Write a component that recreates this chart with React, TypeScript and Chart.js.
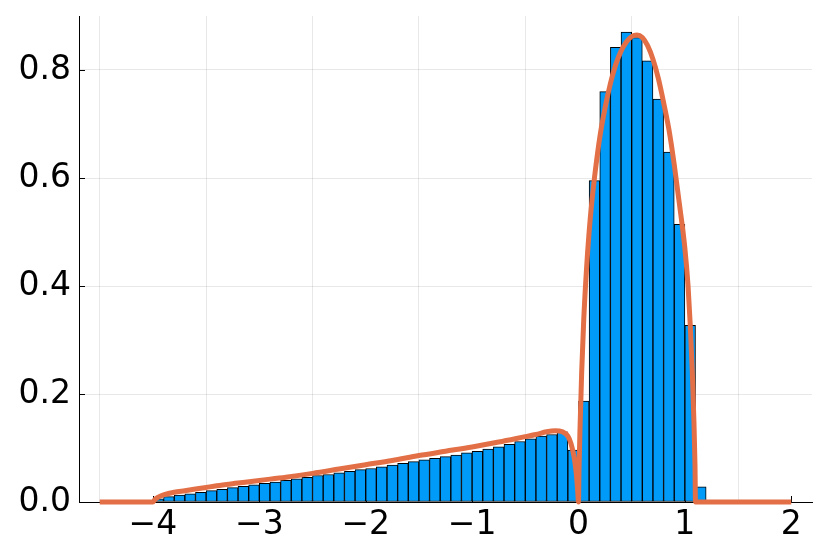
import React, { useEffect, useRef } from "react";
import { Chart, registerables } from "chart.js";

Chart.register(...registerables);

// Histogram bins (left edges, width 0.1) and normalized densities
const binLeftEdges = [
  -4.0, -3.9, -3.8, -3.7, -3.6, -3.5, -3.4, -3.3, -3.2, -3.1,
  -3.0, -2.9, -2.8, -2.7, -2.6, -2.5, -2.4, -2.3, -2.2, -2.1,
  -2.0, -1.9, -1.8, -1.7, -1.6, -1.5, -1.4, -1.3, -1.2, -1.1,
  -1.0, -0.9, -0.8, -0.7, -0.6, -0.5, -0.4, -0.3, -0.2, -0.1,
  0.0, 0.1, 0.2, 0.3, 0.4, 0.5, 0.6, 0.7, 0.8, 0.9, 1.0, 1.1,
];
const binWidth = 0.1;
const binDensity = [
  0.006, 0.010, 0.013, 0.015, 0.018, 0.021, 0.0235, 0.0265, 0.029, 0.032,
  0.0345, 0.037, 0.040, 0.043, 0.0457, 0.049, 0.051, 0.054, 0.057, 0.060,
  0.062, 0.065, 0.0685, 0.0716, 0.0747, 0.078, 0.081, 0.084, 0.087, 0.091,
  0.094, 0.098, 0.102, 0.107, 0.112, 0.117, 0.122, 0.125, 0.130, 0.096,
  0.187, 0.595, 0.760, 0.842, 0.870, 0.860, 0.817, 0.746, 0.648, 0.514, 0.327, 0.028,
];

// Theoretical density curve
const curveX = [
  -4.5, -4.0, -3.98, -3.95, -3.9, -3.8, -3.7, -3.6, -3.5, -3.4, -3.2, -3.0,
  -2.75, -2.5, -2.25, -2.0, -1.75, -1.5, -1.25, -1.0, -0.75, -0.5, -0.4, -0.3,
  -0.22, -0.15, -0.1, -0.07, -0.04, -0.02, -0.008, 0.0,
  0.005, 0.015, 0.03, 0.05, 0.075, 0.1, 0.125, 0.15, 0.2, 0.25, 0.3, 0.35,
  0.4, 0.45, 0.5, 0.55, 0.6, 0.65, 0.7, 0.75, 0.8, 0.85, 0.9, 0.95, 1.0,
  1.03, 1.05, 1.07, 1.085, 1.095, 1.1, 2.0,
];
const curveY = [
  0, 0, 0.005, 0.009, 0.013, 0.018, 0.021, 0.024, 0.027, 0.030, 0.035, 0.040,
  0.046, 0.053, 0.061, 0.069, 0.077, 0.086, 0.094, 0.102, 0.111, 0.121, 0.125, 0.130,
  0.132, 0.130, 0.122, 0.108, 0.082, 0.052, 0.022, 0.0,
  0.06, 0.14, 0.24, 0.34, 0.43, 0.50, 0.555, 0.60, 0.675, 0.73, 0.775, 0.81,
  0.835, 0.852, 0.862, 0.865, 0.86, 0.845, 0.82, 0.785, 0.74, 0.69, 0.625, 0.55, 0.47,
  0.40, 0.33, 0.24, 0.15, 0.07, 0, 0,
];

const xTicks = [-4, -3, -2, -1, 0, 1, 2];
const yTicks = [0.0, 0.2, 0.4, 0.6, 0.8];
const xRange = [-4.695, 2.195];
const yRange = [0, 0.9];

const FONT = "'DejaVu Sans', sans-serif";

const innerTicks = {
  id: "innerTicks",
  beforeDatasetsDraw(chart: any) {
    const { ctx, chartArea, scales } = chart;
    ctx.save();
    ctx.strokeStyle = "#000";
    ctx.lineWidth = 1;
    ctx.beginPath();
    for (const v of yTicks) {
      const py = Math.round(scales.y.getPixelForValue(v)) + 0.5;
      ctx.moveTo(chartArea.left, py);
      ctx.lineTo(chartArea.left + 6, py);
    }
    for (const v of xTicks) {
      const px = Math.round(scales.x.getPixelForValue(v)) + 0.5;
      ctx.moveTo(px, chartArea.bottom);
      ctx.lineTo(px, chartArea.bottom - 6);
    }
    ctx.stroke();
    ctx.restore();
  },
};

export default function App() {
  const ref = useRef<HTMLCanvasElement | null>(null);

  useEffect(() => {
    if (!ref.current) return;
    const bars = binLeftEdges.map((e, i) => ({ x: e + binWidth / 2, y: binDensity[i] }));
    const curve = curveX.map((x, i) => ({ x, y: curveY[i] }));
    const chart = new Chart(ref.current, {
      type: "bar",
      data: {
        datasets: [
          {
            type: "line",
            data: curve,
            borderColor: "#e26f46",
            borderWidth: 5,
            pointRadius: 0,
            cubicInterpolationMode: "monotone",
            clip: false,
            order: 0,
          } as any,
          {
            type: "bar",
            data: bars,
            backgroundColor: "#009af9",
            borderColor: "#000000",
            borderWidth: 1,
            borderSkipped: false,
            barPercentage: 1,
            categoryPercentage: 1,
            grouped: false,
            order: 1,
          } as any,
        ],
      },
      options: {
        animation: false,
        responsive: false,
        maintainAspectRatio: false,
        layout: { padding: { left: 0, right: 18, top: 16, bottom: 0 } },
        plugins: { legend: { display: false }, tooltip: { enabled: false } },
        scales: {
          x: {
            type: "linear",
            min: xRange[0],
            max: xRange[1],
            offset: false,
            afterBuildTicks: (s: any) => {
              s.ticks = xTicks.map((v) => ({ value: v }));
            },
            afterFit: (s: any) => {
              s.height = 52;
              s.paddingLeft = 0;
              s.paddingRight = 0;
            },
            grid: {
              color: "rgba(0,0,0,0.09)",
              lineWidth: 1,
              drawTicks: false,
            },
            border: { display: true, color: "#000", width: 1 },
            ticks: {
              color: "#000",
              font: { family: FONT, size: 33 },
              padding: 4,
              maxRotation: 0,
              callback: (v: any) => (v < 0 ? "\u2212" + Math.abs(v) : String(v)),
            },
          },
          y: {
            type: "linear",
            min: yRange[0],
            max: yRange[1],
            afterBuildTicks: (s: any) => {
              s.ticks = yTicks.map((v) => ({ value: v }));
            },
            afterFit: (s: any) => {
              s.width = 79;
              s.paddingTop = 0;
              s.paddingBottom = 0;
            },
            grid: {
              color: "rgba(0,0,0,0.09)",
              lineWidth: 1,
              drawTicks: false,
            },
            border: { display: true, color: "#000", width: 1 },
            ticks: {
              color: "#000",
              font: { family: FONT, size: 33 },
              padding: 8,
              callback: (v: any) => Number(v).toFixed(1),
            },
          },
        },
      },
      plugins: [innerTicks],
    });
    return () => chart.destroy();
  }, []);

  return (
    <div style={{ position: "fixed", left: 0, top: 0, width: 830, height: 554, background: "#fff" }}>
      <canvas ref={ref} width={830} height={554} style={{ width: 830, height: 554, display: "block" }} />
    </div>
  );
}
